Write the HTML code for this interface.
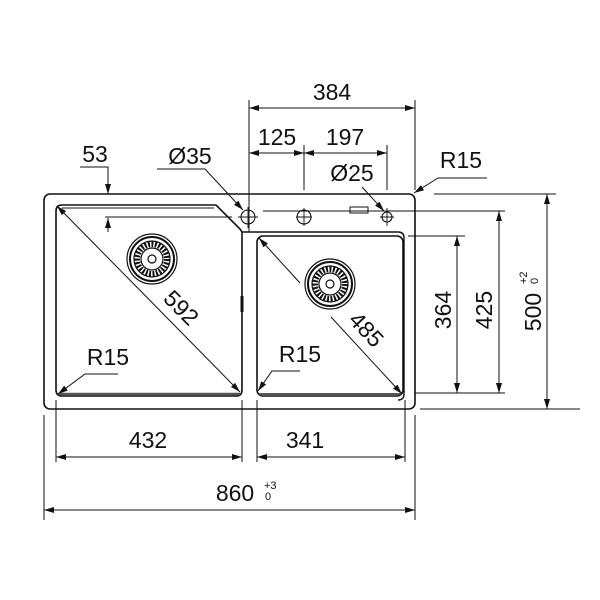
<!DOCTYPE html>
<html><head><meta charset="utf-8"><style>
html,body{margin:0;padding:0;background:#fff;width:600px;height:600px;overflow:hidden}
svg{display:block}
text{font-family:"Liberation Sans",Arial,sans-serif;fill:#111}
</style></head><body>
<svg width="600" height="600" viewBox="0 0 600 600" xmlns="http://www.w3.org/2000/svg">
<defs>
<marker id="a" viewBox="0 0 10 6" refX="10" refY="3" markerWidth="10" markerHeight="6" orient="auto-start-reverse" markerUnits="userSpaceOnUse">
<path d="M0,0 L10,3 L0,6 z" fill="#111"/></marker>
</defs>
<g fill="none" stroke="#111">
<rect x="44" y="194" width="371" height="215" rx="6" stroke-width="1.6"/>
<path d="M62,205 L216,205 L240,229 L242,232 L242,390 Q242,396 236,396 L62,396 Q56,396 56,390 L56,211 Q56,205 62,205 Z" stroke-width="1.6"/>
<path d="M62,208 L214,208" stroke-width="1"/>
<path d="M58,394 L240,394" stroke-width="2.5" stroke="#555"/>
<path d="M242,232 L398,232 Q404,232 404,238 L404,394 Q404,400 398,400" stroke-width="1.4"/>
<rect x="257" y="236" width="146" height="160" rx="6" stroke-width="1.6"/>
<path d="M259,394 L401,394" stroke-width="2" stroke="#555"/>
<path d="M242,296 L242,312" stroke-width="3"/>
<circle cx="248" cy="217" r="7" stroke-width="1.1"/>
<circle cx="304" cy="217" r="7" stroke-width="1.1"/>
<circle cx="387" cy="217" r="5" stroke-width="1.1"/>
<rect x="350" y="207" width="18" height="6" stroke-width="1"/>
<g stroke-width="0.9">
<path d="M105,217 L232,217 M238,217 L258,217 M296,217 L312,217 M263,211 L505,211 M304,208 L304,226 M248,207 L248,228 M387,208 L387,226 M380,217 L394,217"/>
</g>
<g stroke-width="1.2">
<circle cx="152" cy="259" r="25"/><circle cx="152" cy="259" r="22" stroke-width="2"/><circle cx="152" cy="259" r="18"/>
<circle cx="152" cy="259" r="15" stroke-width="6" stroke-dasharray="2 1.5"/>
<circle cx="152" cy="259" r="11"/><circle cx="152" cy="259" r="4"/>
<circle cx="330" cy="284" r="25"/><circle cx="330" cy="284" r="22" stroke-width="2"/><circle cx="330" cy="284" r="18"/>
<circle cx="330" cy="284" r="15" stroke-width="6" stroke-dasharray="2 1.5"/>
<circle cx="330" cy="284" r="11"/><circle cx="330" cy="284" r="4"/>
</g>
<g stroke-width="1">
<path d="M249,100 L249,232 M304,145 L304,190 M387,145 L387,190 M415,100 L415,190"/>
<path d="M249,108 L415,108" marker-start="url(#a)" marker-end="url(#a)"/>
<path d="M249,153 L304,153" marker-start="url(#a)" marker-end="url(#a)"/>
<path d="M304,153 L387,153" marker-start="url(#a)" marker-end="url(#a)"/>
<path d="M80,167 L108,167 L108,194" marker-end="url(#a)"/>
<path d="M108,232 L108,218" marker-end="url(#a)"/>
<path d="M157,169 L205,169 L243,210" marker-end="url(#a)"/>
<path d="M362,187 L384,211" marker-end="url(#a)"/>
<path d="M487,178 L438,178 L414,193" marker-end="url(#a)"/>
<path d="M434,194 L556,194 M408,236 L465,236 M415,393 L505,393 M420,409 L580,409"/>
<path d="M457,236 L457,393" marker-start="url(#a)" marker-end="url(#a)"/>
<path d="M499,211 L499,393" marker-start="url(#a)" marker-end="url(#a)"/>
<path d="M547,194 L547,409" marker-start="url(#a)" marker-end="url(#a)"/>
<path d="M57,206 L240,392" marker-start="url(#a)" marker-end="url(#a)"/>
<path d="M259,238 L300,283" marker-start="url(#a)"/>
<path d="M331,317 L402,394" marker-end="url(#a)"/>
<path d="M118,374 L85,374 L58,394" marker-end="url(#a)"/>
<path d="M300,371 L272,371 L258,391" marker-end="url(#a)"/>
<path d="M44,415 L44,520 M56,400 L56,462 M242,400 L242,462 M257,400 L257,462 M405,400 L405,462 M415,415 L415,520"/>
<path d="M56,457 L242,457" marker-start="url(#a)" marker-end="url(#a)"/>
<path d="M257,457 L405,457" marker-start="url(#a)" marker-end="url(#a)"/>
<path d="M44,510 L415,510" marker-start="url(#a)" marker-end="url(#a)"/>
</g>
</g>
<g font-size="23">
<text x="332" y="100" text-anchor="middle">384</text>
<text x="277" y="145" text-anchor="middle">125</text>
<text x="345" y="145" text-anchor="middle">197</text>
<text x="95" y="162" text-anchor="middle">53</text>
<text x="190" y="164" text-anchor="middle">Ø35</text>
<text x="352" y="181" text-anchor="middle">Ø25</text>
<text x="461" y="168" text-anchor="middle">R15</text>
<text x="108" y="365" text-anchor="middle">R15</text>
<text x="300" y="362" text-anchor="middle">R15</text>
<text x="148" y="448" text-anchor="middle">432</text>
<text x="305" y="448" text-anchor="middle">341</text>
<text x="235" y="501" text-anchor="middle">860</text>
<text x="264" y="489" font-size="11">+3</text>
<text x="265" y="500" font-size="11">0</text>
<text transform="translate(170,319) rotate(45)" text-anchor="middle" dy="-8">592</text>
<text transform="translate(354,341) rotate(47)" text-anchor="middle" dy="-9">485</text>
<text transform="translate(451,310) rotate(-90)" text-anchor="middle">364</text>
<text transform="translate(492,310) rotate(-90)" text-anchor="middle">425</text>
<text transform="translate(541,312) rotate(-90)" text-anchor="middle">500</text>
<text transform="translate(527,284) rotate(-90)" font-size="11">+2</text>
<text transform="translate(538,284) rotate(-90)" font-size="11">0</text>
</g>
</svg>
</body></html>
